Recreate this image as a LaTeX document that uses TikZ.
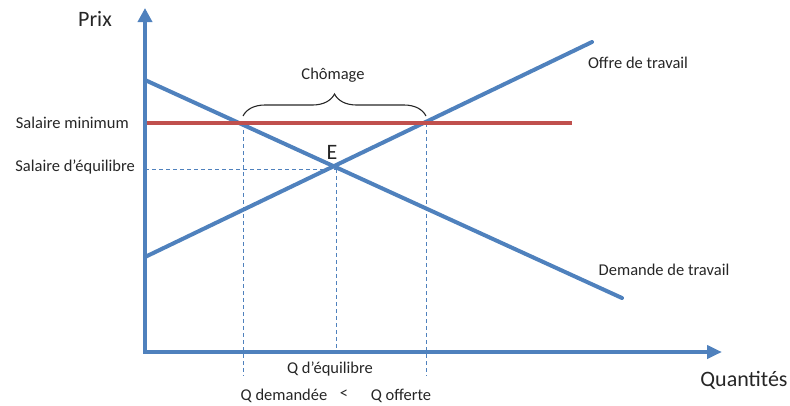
\documentclass[tikz,border=0pt]{standalone}
\usepackage{fontspec}
\setmainfont{Carlito}
\usepackage{tikz}
\usetikzlibrary{arrows.meta,decorations.pathreplacing}
\definecolor{offblue}{RGB}{79,129,189}
\definecolor{offred}{RGB}{192,80,77}
\tikzset{
  axe/.style={draw=offblue, line width=4.5pt, {Triangle[length=14pt,width=14pt]}-{Triangle[length=15pt,width=13pt]}},
  courbe/.style={draw=offblue, line width=4pt, line cap=round},
  plancher/.style={draw=offred, line width=4pt},
  guide/.style={draw=offblue, line width=0.9pt, dash pattern=on 4pt off 3pt},
  accolade/.style={draw=black!85, line width=1.1pt, decorate, decoration={brace, amplitude=22pt, aspect=0.5}},
  lbl/.style={text=black!85, inner sep=0pt, font=\fontsize{16.5}{19}\selectfont},
  big/.style={lbl, font=\fontsize{22}{25}\selectfont}
}

\begin{document}
\begin{tikzpicture}[x=1pt, y=-1pt]
    \useasboundingbox (0,0) rectangle (790,405);

    \coordinate (orig) at (145,352);
    \coordinate (ytip) at (145,8);
    \coordinate (xtip) at (722,352);
    \coordinate (dem1) at (145,80);
    \coordinate (dem2) at (622,298);
    \coordinate (off1) at (145,257);
    \coordinate (off2) at (592,42);
    \coordinate (smin1) at (145,123);
    \coordinate (smin2) at (572,123);
    \coordinate (E) at (336,169);
    \coordinate (qdem) at (243,123);
    \coordinate (qoff) at (426,123);
    \coordinate (bas) at (0,376);
    \coordinate (acc) at (0,116);

    % guides
    \draw[guide] (orig |- E) -- (E);
    \draw[guide] (E) -- (E |- orig);
    \draw[guide] (qdem) -- (qdem |- bas);
    \draw[guide] (qoff) -- (qoff |- bas);

    \draw[courbe] (dem1) -- (dem2);
    \draw[courbe] (off1) -- (off2);
    \draw[plancher] (smin1) -- (smin2);
    \draw[axe] (ytip) -- (orig) -- (xtip);

    \draw[accolade] (qdem |- acc) -- (qoff |- acc);

    \node[big] (prix) at (95,19) {Prix};
    \node[big] (quant) at (744,380) {Quantités};
    \node[lbl, anchor=east] (salmin) at (129,123) {Salaire minimum};
    \node[lbl, anchor=east] (saleq) at (135,167) {Salaire d’équilibre};
    \node[big] (ptE) at (332,152) {E};
    \node[lbl] (chom) at (333,75) {Chômage};
    \node[lbl] (offre) at (638,63) {Offre de travail};
    \node[lbl] (demande) at (664,270) {Demande de travail};
    \node[lbl] (qeq) at (330,369) {Q d’équilibre};
    \node[lbl] (qd) at (284,396) {Q demandée};
    \node[lbl] (inf) at (344,394) {<};
    \node[lbl] (qo) at (401,396) {Q offerte};
\end{tikzpicture}
\end{document}
